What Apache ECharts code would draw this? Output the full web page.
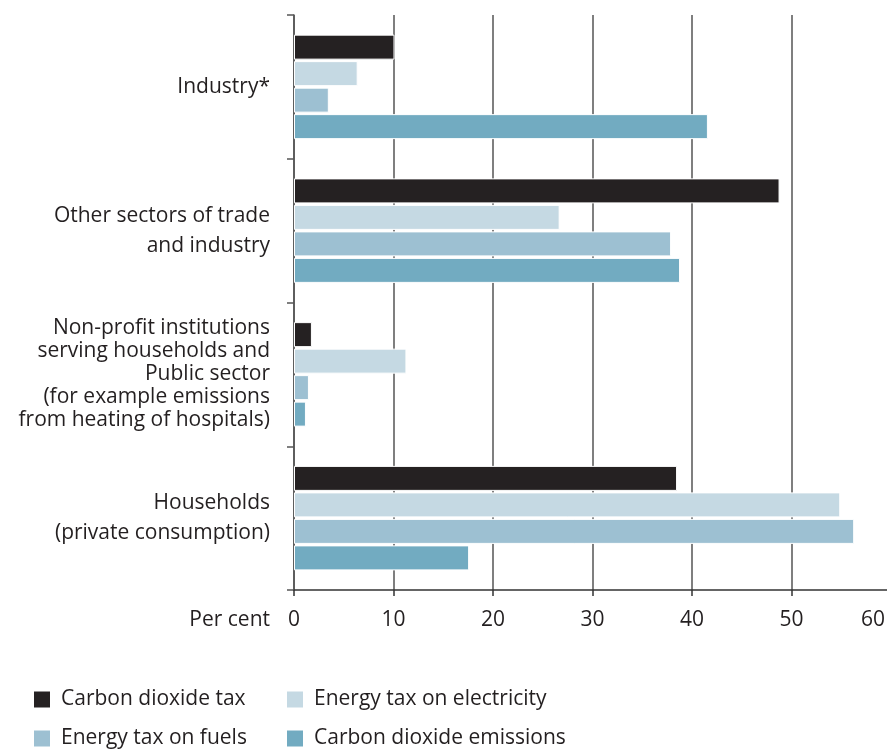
<!DOCTYPE html>
<html>
<head>
<meta charset="utf-8">
<script src="https://cdn.jsdelivr.net/npm/echarts@6/dist/echarts.min.js"></script>
<style>
  html, body { margin: 0; padding: 0; background: #fff; }
  #chart { width: 887px; height: 751px; }
</style>
</head>
<body>
<div id="chart"></div>
<script>
// sectors, top to bottom
const categories = [
  'Industry*',
  'Other sectors of trade\nand industry',
  'Non-profit institutions\nserving households and\nPublic sector\n(for example emissions\nfrom heating of hospitals)',
  'Households\n(private consumption)'
];
const seriesNames = ['Carbon dioxide tax', 'Energy tax on electricity', 'Energy tax on fuels', 'Carbon dioxide emissions'];
// per cent
const co2Tax = [10.1, 48.8, 1.8, 38.5];
const electricityTax = [6.4, 26.7, 11.3, 54.9];
const fuelsTax = [3.5, 37.9, 1.5, 56.3];
const co2Emissions = [41.6, 38.8, 1.2, 17.6];
const xTicks = [0, 10, 20, 30, 40, 50, 60];

const colors = ['#252122', '#c5d9e3', '#9dc0d2', '#72abc1'];
const textColor = '#231f20';
const font = '"Open Sans", "Noto Sans", sans-serif';
const fs = 21;

const chart = echarts.init(document.getElementById('chart'));

const mkSeries = (name, data, i) => ({
  name: name,
  type: 'bar',
  data: data,
  barWidth: 25,
  barGap: '6%',
  itemStyle: { color: colors[i], borderColor: '#fff', borderWidth: 1 },
  emphasis: { disabled: true }
});

const legendBase = {
  top: 689, orient: 'vertical', itemGap: 18, itemWidth: 16, itemHeight: 16,
  icon: 'rect', padding: 0,
  itemStyle: { borderWidth: 0 },
  textStyle: { fontSize: fs, color: textColor, fontFamily: font, padding: [0, 0, 0, 6] }
};

const option = {
  animation: false,
  color: colors,
  // axis runs a little past the right edge, 60 sits just outside the page
  grid: { left: 294, width: 597, top: 15, bottom: 161, outerBoundsMode: 'none', containLabel: false },
  legend: [
    Object.assign({}, legendBase, { left: 34, data: [seriesNames[0], seriesNames[2]] }),
    Object.assign({}, legendBase, { left: 287, data: [seriesNames[1], seriesNames[3]] })
  ],
  xAxis: {
    type: 'value',
    min: xTicks[0],
    max: xTicks[xTicks.length - 1],
    interval: 10,
    name: 'Per cent',
    nameLocation: 'start',
    nameGap: 24,
    nameTextStyle: { fontSize: fs, color: textColor, fontFamily: font, verticalAlign: 'top', padding: [20, 0, 0, 0] },
    axisLine: { show: true, lineStyle: { color: '#333', width: 1.5 } },
    axisTick: { show: true, length: 6, lineStyle: { color: '#333', width: 1.5 } },
    axisLabel: {
      margin: 20, fontSize: fs, color: textColor, fontFamily: font,
      formatter: v => v === 60 ? '{last|' + v + '}' : String(v),
      rich: { last: { fontSize: fs, color: textColor, fontFamily: font, padding: [0, 36, 0, 0] } }
    },
    splitLine: { show: true, lineStyle: { color: '#555', width: 1.5 } }
  },
  yAxis: {
    type: 'category',
    inverse: true,
    data: categories,
    axisLine: { show: true, lineStyle: { color: '#555', width: 1.5 } },
    axisTick: { show: true, length: 7, lineStyle: { color: '#555', width: 1.5 } },
    axisLabel: {
      margin: 24, color: textColor, fontFamily: font,
      formatter: (v, i) => v.split('\n').map(s => (i === 2 ? '{s|' : '{w|') + s + '}').join('\n'),
      rich: {
        w: { fontSize: fs, lineHeight: 30, color: textColor, fontFamily: font, align: 'right' },
        s: { fontSize: fs, lineHeight: 23, color: textColor, fontFamily: font, align: 'right' }
      }
    }
  },
  series: [
    mkSeries(seriesNames[0], co2Tax, 0),
    mkSeries(seriesNames[1], electricityTax, 1),
    mkSeries(seriesNames[2], fuelsTax, 2),
    mkSeries(seriesNames[3], co2Emissions, 3)
  ]
};

chart.setOption(option);
</script>
</body>
</html>
